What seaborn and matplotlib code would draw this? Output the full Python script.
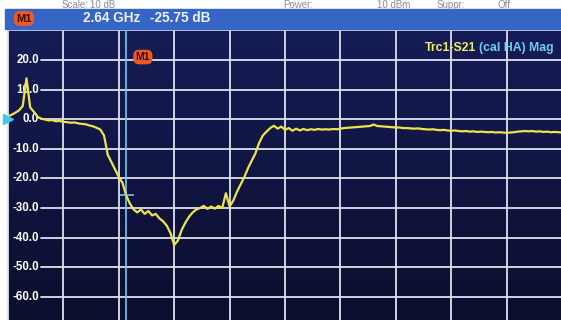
import numpy as np
import pandas as pd
import matplotlib
matplotlib.use("Agg")
import matplotlib.pyplot as plt
from matplotlib.patches import Rectangle
import seaborn as sns

# Sweep settings and measured S21 magnitude (dB), one value per sweep point
FREQ_START_GHZ = 2.0
FREQ_STOP_GHZ = 5.0
s21_db = [
    1.0, 1.5, 2.2, 3.0, 4.5, 13.8, 4.0, 2.5, 0.8, 0.2,
    -0.1, -0.4, -0.3, -0.7, -0.6, -0.9, -1.0, -1.2, -1.1, -1.4,
    -1.6, -1.7, -2.1, -2.4, -2.9, -3.5, -5.5, -12.0, -14.5, -17.0,
    -19.5, -21.5, -25.75, -28.5, -30.5, -31.5, -30.5, -32.0, -31.0, -32.5,
    -32.0, -33.5, -34.5, -36.0, -38.5, -42.5, -41.0, -37.5, -35.0, -33.0,
    -31.5, -30.5, -30.0, -29.3, -30.3, -29.5, -30.2, -29.3, -30.0, -25.0,
    -29.5, -27.5, -24.5, -22.0, -19.5, -16.5, -14.0, -11.5, -8.0, -5.5,
    -4.2, -3.0, -2.2, -3.2, -2.5, -3.6, -3.0, -3.9, -3.2, -3.8,
    -3.3, -3.7, -3.4, -3.6, -3.3, -3.5, -3.4, -3.5, -3.3, -3.4,
    -3.2, -3.0, -2.9, -2.8, -2.7, -2.6, -2.5, -2.4, -2.3, -1.8,
    -2.3, -2.4, -2.5, -2.6, -2.7, -2.8, -2.8, -3.0, -3.0, -3.1,
    -3.2, -3.1, -3.3, -3.4, -3.5, -3.4, -3.6, -3.7, -3.6, -3.8,
    -3.9, -3.8, -4.0, -4.1, -4.0, -4.2, -4.1, -4.3, -4.2, -4.3,
    -4.4, -4.3, -4.5, -4.4, -4.5, -4.6, -4.5, -4.4, -4.2, -4.1,
    -4.0, -4.1, -4.0, -4.2, -4.1, -4.3, -4.2, -4.4, -4.3, -4.4,
    -4.5,
]
freq_ghz = np.linspace(FREQ_START_GHZ, FREQ_STOP_GHZ, len(s21_db))

# Display scale
Y_TOP_DB = 30.0
Y_BOTTOM_DB = -70.0
DB_PER_DIV = 10.0
X_DIVS = 10
y_label_values = [20.0, 10.0, 0.0, -10.0, -20.0, -30.0, -40.0, -50.0, -60.0]
REF_LEVEL_DB = 0.0

# Marker M1
MARKER_NAME = "M1"
MARKER_F_GHZ = 2.64
MARKER_DB = -25.75

# Colours of the analyzer screen
GRID_C = "#dde1ee"
TRACE_C = "#ece54a"
MARKER_C = "#72c8ee"
TAG_C = "#ee5a1e"
HEADER_C = "#3566c6"
CYAN_TXT = "#6fcdf2"
STATUS_C = "#8c8c94"

sns.set_theme(style="dark")
plt.rcParams["font.family"] = ["Liberation Sans", "DejaVu Sans"]

W, H = 561, 320
fig = plt.figure(figsize=(W / 100, H / 100), dpi=100, facecolor="white")

def fx(px):
    return px / W

def fy(py):
    return 1 - py / H

# status line above the header
for x0, txt in [(62, "Scale:"), (90, "10 dB"), (283, "Power:"),
                (377, "10 dBm"), (437, "Suppr:"), (497, "Off")]:
    fig.text(fx(x0), fy(8), txt, ha="left", va="baseline",
             fontsize=7, color=STATUS_C)

# header bar with marker readout
fig.patches.append(Rectangle((fx(5), fy(29)), fx(W - 5), 20 / H,
                             transform=fig.transFigure, color=HEADER_C, zorder=0))
fig.text(fx(24), fy(18.5), MARKER_NAME, ha="center", va="center", fontsize=8,
         fontweight="bold", color="#3a0800",
         bbox=dict(boxstyle="round,pad=0.22,rounding_size=0.55", fc=TAG_C, ec="none"))
fig.text(fx(83), fy(18.5), f"{MARKER_F_GHZ:.2f} GHz", ha="left", va="center",
         fontsize=9.8, fontweight="bold", color="#eef0ff")
fig.text(fx(150), fy(18.5), f"{MARKER_DB:.2f} dB", ha="left", va="center",
         fontsize=9.8, fontweight="bold", color="#eef0ff")

# diagram area
ax_left, ax_right = 8, 562
ax_top = 30.4
px_per_db = 2.96
ax_bottom = ax_top + (Y_TOP_DB - Y_BOTTOM_DB) * px_per_db
ax = fig.add_axes([fx(ax_left), fy(ax_bottom), (ax_right - ax_left) / W,
                   (ax_bottom - ax_top) / H])
ax.set_xlim(FREQ_START_GHZ, FREQ_STOP_GHZ)
ax.set_ylim(Y_BOTTOM_DB, Y_TOP_DB)
ax.set_xticks([])
ax.set_yticks([])
for s in ax.spines.values():
    s.set_color(GRID_C)
    s.set_linewidth(1.3)

# screen background, darker towards the bottom
grad = np.linspace(0, 1, 256).reshape(-1, 1)
ax.imshow(grad, extent=(FREQ_START_GHZ, FREQ_STOP_GHZ, Y_BOTTOM_DB, Y_TOP_DB),
          aspect="auto", origin="lower", zorder=0,
          cmap=matplotlib.colors.LinearSegmentedColormap.from_list(
              "scr", ["#0b0e2c", "#161c56"]))

# graticule
div_f = (FREQ_STOP_GHZ - FREQ_START_GHZ) / X_DIVS
for k in range(1, X_DIVS):
    ax.axvline(FREQ_START_GHZ + k * div_f, color=GRID_C, lw=1.3, zorder=2)
label_end = (39 - ax_left) / (ax_right - ax_left)
line_start = (41 - ax_left) / (ax_right - ax_left)
db = Y_BOTTOM_DB + DB_PER_DIV
while db < Y_TOP_DB:
    ax.axhline(db, xmin=line_start if db in y_label_values else 0,
               color=GRID_C, lw=1.3, zorder=2)
    db += DB_PER_DIV
for v in y_label_values:
    ax.text(label_end, v, f"{v:.1f}", transform=ax.get_yaxis_transform(),
            ha="right", va="center", fontsize=8.3, fontweight="bold",
            color="white", zorder=3)

# trace title (graticule runs over it)
fig.text(fx(425), fy(48), "Trc1-S21", ha="left", va="center", fontsize=8.8,
         fontweight="bold", color="#f2ee58", zorder=1)
fig.text(fx(479), fy(48), "(cal HA) Mag", ha="left", va="center", fontsize=8.8,
         fontweight="bold", color=CYAN_TXT, zorder=1)

# marker line, marker tick and marker tag
ax.axvline(MARKER_F_GHZ, color=MARKER_C, lw=1.2, zorder=4)
ax.hlines(MARKER_DB, MARKER_F_GHZ - 0.035, MARKER_F_GHZ + 0.04,
          color=MARKER_C, lw=1.2, zorder=6)
ax.annotate(MARKER_NAME, xy=(MARKER_F_GHZ, 21.0), xytext=(12, 0),
            textcoords="offset points", ha="center", va="center",
            fontsize=7.5, fontweight="bold", color="#3a0800", zorder=7,
            bbox=dict(boxstyle="round,pad=0.22,rounding_size=0.55",
                      fc=TAG_C, ec="none"))

# reference level arrow
ax.plot([FREQ_START_GHZ], [REF_LEVEL_DB], marker=">", ms=6.5, color="#3cc8f2",
        clip_on=False, zorder=6, ls="none")

# measured trace
df = pd.DataFrame({"freq_ghz": freq_ghz, "s21_db": s21_db})
sns.lineplot(data=df, x="freq_ghz", y="s21_db", ax=ax, color=TRACE_C, lw=1.6,
             estimator=None, sort=False, zorder=5)
ax.set_xlabel("")
ax.set_ylabel("")

fig.savefig("out.png", dpi=100, facecolor="white")
